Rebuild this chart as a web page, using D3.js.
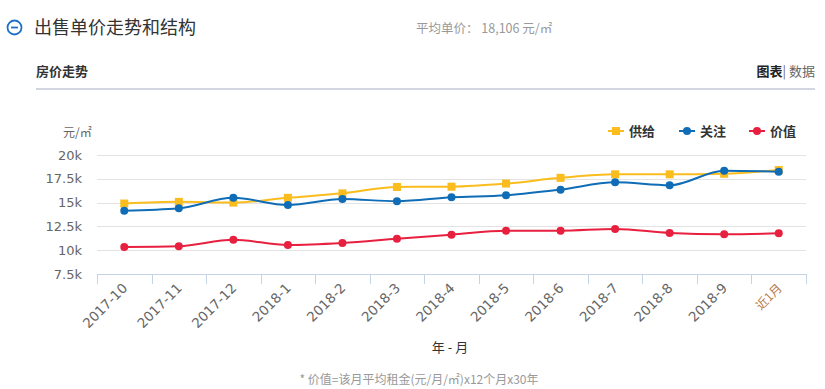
<!DOCTYPE html>
<html><head><meta charset="utf-8">
<script src="https://cdn.jsdelivr.net/npm/d3@7"></script>
<style>
body{margin:0;background:#fff;font-family:"Noto Sans CJK SC","Noto Sans",sans-serif;}
</style></head>
<body><svg id="c" width="825" height="389"></svg>
<script>
const categories = ["2017-10","2017-11","2017-12","2018-1","2018-2","2018-3","2018-4","2018-5","2018-6","2018-7","2018-8","2018-9","近1月"];
const supply    = [14900,15080,15000,15500,15970,16640,16670,17000,17600,17970,17970,18030,18420];
const attention = [14150,14400,15500,14750,15380,15140,15560,15770,16360,17130,16820,18350,18250];
const value     = [10340,10410,11100,10550,10760,11200,11630,12050,12050,12230,11810,11670,11780];
const yTicks = [7500,10000,12500,15000,17500,20000];
const yTickLabels = ["7.5k","10k","12.5k","15k","17.5k","20k"];
const seriesNames = ["供给","关注","价值"];
const seriesColors = ["#fbbd1e","#0f6cb6","#e8203f"];

const svg = d3.select("#c");
const font = '"Noto Sans CJK SC","Noto Sans",sans-serif';
const numFont = '"DejaVu Sans","Noto Sans CJK SC",sans-serif';

// header
svg.append("circle").attr("cx",14.5).attr("cy",27.5).attr("r",7).attr("fill","none").attr("stroke","#2070c8").attr("stroke-width",1.8);
svg.append("line").attr("x1",11).attr("x2",18).attr("y1",27.5).attr("y2",27.5).attr("stroke","#2070c8").attr("stroke-width",1.8);
svg.append("text").attr("x",34).attr("y",34).attr("font-size",18).attr("fill","#333").attr("font-family",font).text("出售单价走势和结构");
svg.append("text").attr("x",416).attr("y",33).attr("font-size",12.5).attr("fill","#999").attr("font-family",font).text("平均单价：  18,106 元/㎡");
svg.append("text").attr("x",36).attr("y",76).attr("font-size",13).attr("font-weight","bold").attr("fill","#333").attr("font-family",font).text("房价走势");
const tr = svg.append("text").attr("x",815).attr("y",76).attr("text-anchor","end").attr("font-size",13).attr("font-family",font);
tr.append("tspan").attr("font-weight","bold").attr("fill","#222").text("图表");
tr.append("tspan").attr("fill","#666").text("| 数据");
svg.append("rect").attr("x",36).attr("y",88).attr("width",779).attr("height",2).attr("fill","#d3d6e1");

// scales
const x = d3.scaleBand().domain(categories).range([97,806]);
const y = d3.scaleLinear().domain([7500,20000]).range([274,155]);

// grid
svg.append("g").selectAll("line").data(yTicks.slice(1)).join("line")
  .attr("x1",97).attr("x2",806).attr("y1",d=>Math.round(y(d))+0.5).attr("y2",d=>Math.round(y(d))+0.5)
  .attr("stroke","#e3e3e3").attr("stroke-width",1);

// y axis labels
const yAxis = d3.axisLeft(y).tickValues(yTicks).tickFormat((d,i)=>yTickLabels[i]).tickSize(0).tickPadding(15);
const gy = svg.append("g").attr("transform","translate(97,0)").call(yAxis);
gy.select(".domain").remove();
gy.selectAll("text").attr("font-size",13).attr("fill","#666").attr("font-family",numFont);
svg.append("text").attr("x",63).attr("y",137).attr("font-size",12).attr("fill","#666").attr("font-family",font).text("元/㎡");

// x axis
const xAxis = d3.axisBottom(x).tickSize(0).tickFormat("");
const gx = svg.append("g").attr("transform","translate(0,274.5)").call(xAxis);
gx.select(".domain").attr("stroke","#c6d2e6").attr("d","M97,0H806");
svg.append("g").selectAll("line").data(categories.concat(["__end"])).join("line")
  .attr("x1",(d,i)=>Math.round(97+i*x.step())+0.5).attr("x2",(d,i)=>Math.round(97+i*x.step())+0.5)
  .attr("y1",274).attr("y2",284).attr("stroke","#c6d2e6");
const last = categories.length-1;
svg.append("g").selectAll("text").data(categories).join("text")
  .attr("transform",d=>`translate(${x(d)+x.bandwidth()/2+4},${289}) rotate(-45)`)
  .attr("text-anchor","end").attr("font-size",(d,i)=>i===last?12:13.5).attr("fill",(d,i)=>i===last?"#b87a4a":"#666")
  .attr("font-family",(d,i)=>i===last?font:numFont).text(d=>d);
svg.append("text").attr("x",450).attr("y",352).attr("text-anchor","middle").attr("font-size",13).attr("fill","#333").attr("font-family",font).text("年 - 月");
svg.append("text").attr("x",419).attr("y",384).attr("text-anchor","middle").attr("font-size",12).attr("fill","#999").attr("font-family",font).text("* 价值=该月平均租金(元/月/㎡)x12个月x30年");

// series
const cx = d=>x(d)+x.bandwidth()/2;
const all = [supply,attention,value];
const line = d3.line().x((d,i)=>cx(categories[i])).y(d=>y(d)).curve(d3.curveMonotoneX);
all.forEach((s,k)=>{
  svg.append("path").attr("d",line(s)).attr("fill","none").attr("stroke",seriesColors[k]).attr("stroke-width",2);
  const g = svg.append("g");
  if(k===0){
    g.selectAll("rect").data(s).join("rect")
      .attr("x",(d,i)=>cx(categories[i])-4).attr("y",d=>y(d)-4).attr("width",8).attr("height",8).attr("fill",seriesColors[k]);
  } else {
    g.selectAll("circle").data(s).join("circle")
      .attr("cx",(d,i)=>cx(categories[i])).attr("cy",d=>y(d)).attr("r",4).attr("fill",seriesColors[k]);
  }
});

// legend
const legX = [608,679,749];
seriesNames.forEach((n,k)=>{
  const g = svg.append("g").attr("transform",`translate(${legX[k]},131)`);
  g.append("line").attr("x1",0).attr("x2",16).attr("stroke",seriesColors[k]).attr("stroke-width",2);
  if(k===0) g.append("rect").attr("x",4).attr("y",-4).attr("width",8).attr("height",8).attr("fill",seriesColors[k]);
  else g.append("circle").attr("cx",8).attr("r",4).attr("fill",seriesColors[k]);
  g.append("text").attr("x",21).attr("y",5).attr("font-size",13).attr("font-weight","bold").attr("fill","#333").attr("font-family",font).text(n);
});
</script></body></html>
